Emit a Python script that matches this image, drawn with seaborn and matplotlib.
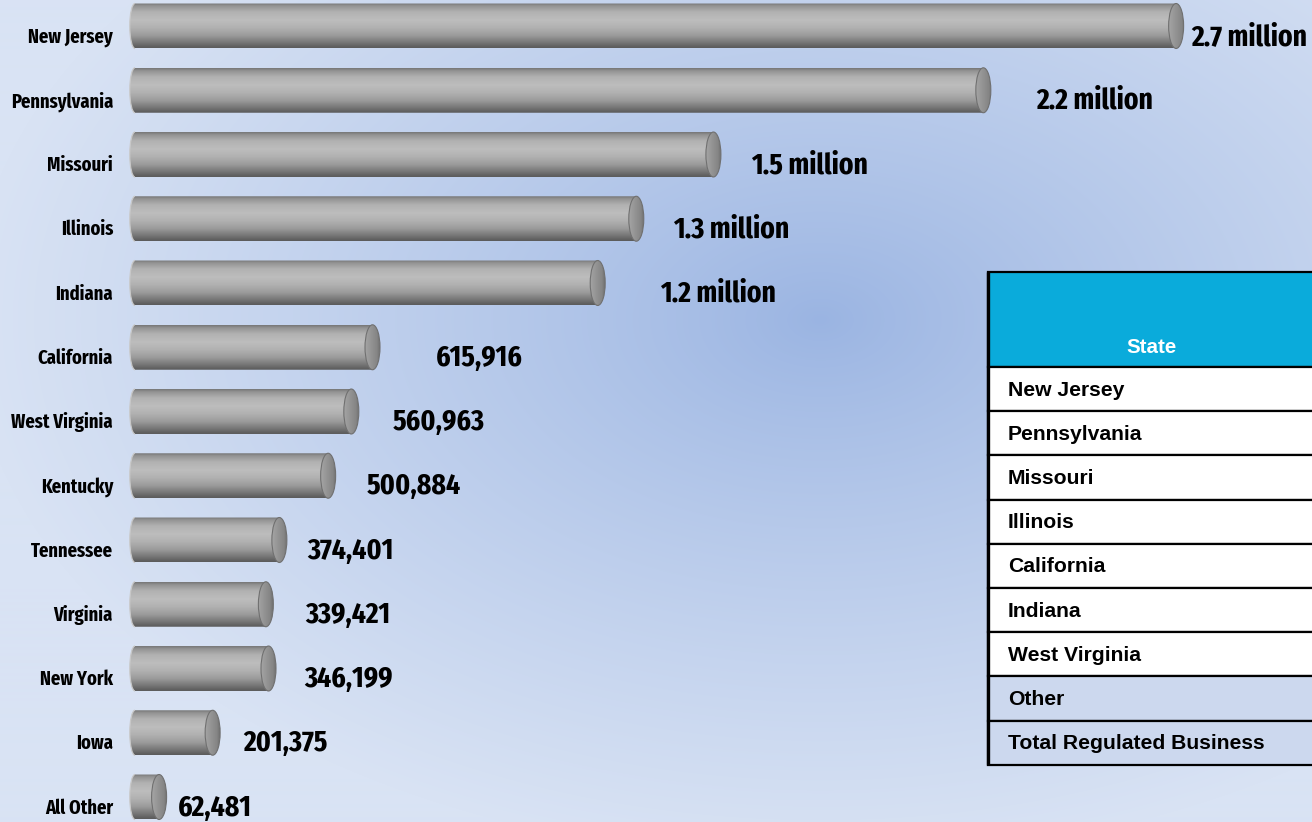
import numpy as np
import matplotlib
matplotlib.use("Agg")
import matplotlib.pyplot as plt
import matplotlib.transforms as mtransforms
from matplotlib.path import Path
from matplotlib.patches import PathPatch, Ellipse, Rectangle
from matplotlib.colors import to_rgb
import seaborn as sns

# ---- data -------------------------------------------------------------
states = ["New Jersey", "Pennsylvania", "Missouri", "Illinois", "Indiana",
          "California", "West Virginia", "Kentucky", "Tennessee", "Virginia",
          "New York", "Iowa", "All Other"]
customers = [2_700_000, 2_200_000, 1_500_000, 1_300_000, 1_200_000,
             615_916, 560_963, 500_884, 374_401, 339_421,
             346_199, 201_375, 62_481]
value_labels = ["2.7 million", "2.2 million", "1.5 million", "1.3 million",
                "1.2 million", "615,916", "560,963", "500,884", "374,401",
                "339,421", "346,199", "201,375", "62,481"]

table_header = "State"
table_rows = ["New Jersey", "Pennsylvania", "Missouri", "Illinois",
              "California", "Indiana", "West Virginia", "Other",
              "Total Regulated Business"]
shaded_rows = ["Other", "Total Regulated Business"]

# gap between each cylinder's end and its value label, in pixels
label_gap_px = [8, 45, 30, 29, 55, 56, 34, 31, 20, 32, 28, 23, 11]

# ---- style ------------------------------------------------------------
sns.set_style("white")
plt.rcParams["font.family"] = ["Fira Sans Extra Condensed", "Open Sans Condensed", "DejaVu Sans"]
label_font = ["Fira Sans Extra Condensed", "Open Sans Condensed", "DejaVu Sans"]
table_font = ["Liberation Sans", "Arial", "DejaVu Sans"]

W, H, DPI = 1312, 822, 100
fig = plt.figure(figsize=(W / DPI, H / DPI), dpi=DPI)

# ---- soft radial blue background --------------------------------------
bg = fig.add_axes([0, 0, 1, 1], zorder=0)
gx, gy = np.meshgrid(np.arange(W), np.arange(H))
d = np.sqrt(((gx - 820) / 850.0) ** 2 + ((gy - 320) / 540.0) ** 2)
t = np.clip(d, 0, 1)[..., None] ** 0.85
c_mid = np.array(to_rgb("#9ab4e2"))
c_edge = np.array(to_rgb("#d9e3f4"))
bg.imshow(c_mid * (1 - t) + c_edge * t, extent=[0, W, H, 0], aspect="auto",
          interpolation="bilinear")
bg.set_axis_off()

# ---- bar axes -----------------------------------------------------------
zero_px, axes_left_px = 135, 120
row0_px, row_px = 26, 64.25
px_per_unit = 385.6e-6
y_lo, y_hi = -0.6, len(states) - 0.4
top_px = row0_px + y_lo * row_px
bot_px = row0_px + y_hi * row_px
ax = fig.add_axes([axes_left_px / W, 1 - bot_px / H, (W - axes_left_px) / W,
                   (bot_px - top_px) / H], zorder=1)
ax.set_facecolor("none")

sns.barplot(x=customers, y=states, orient="h", width=0.7, color="0.6",
            errorbar=None, ax=ax)

x_lim = (-(zero_px - axes_left_px) / px_per_unit, (W - zero_px) / px_per_unit)
ax.set_xlim(*x_lim)
ax.set_ylim(y_hi, y_lo)
for s in ax.spines.values():
    s.set_visible(False)
ax.set_xticks([])
ax.set_xlabel("")
ax.set_ylabel("")
ax.tick_params(axis="y", length=0, pad=5)
for lab in ax.get_yticklabels():
    lab.set_fontfamily(label_font)
    lab.set_fontweight("bold")
    lab.set_fontsize(14.5)
    lab.set_color("black")
    lab.set_transform(lab.get_transform() +
                      mtransforms.ScaledTranslation(0, -9 / DPI, fig.dpi_scale_trans))


def ramp(stops, n=200):
    pos = np.array([p for p, _ in stops])
    cols = np.array([to_rgb(c) for _, c in stops])
    tt = np.linspace(0, 1, n)
    return np.stack([np.interp(tt, pos, cols[:, k]) for k in range(3)], axis=-1)


body_ramp = ramp([(0.00, "#767676"), (0.06, "#939393"), (0.20, "#b2b2b2"),
                  (0.38, "#bdbdbd"), (0.55, "#b1b1b1"), (0.72, "#9b9b9b"),
                  (0.86, "#7b7b7b"), (0.95, "#656565"), (1.00, "#5a5a5a")])[:, None, :]
face_ramp = ramp([(0.0, "#a4a4a4"), (0.35, "#969696"), (0.8, "#858585"),
                  (1.0, "#717171")])[None, :, :]

rx = 7.5 / px_per_unit       # half-width of the elliptical ends
K = 0.5523
bars = list(ax.patches)
for i, bar in enumerate(bars):
    bar.set_visible(False)
    x0, x1 = bar.get_x(), bar.get_x() + bar.get_width()
    y0, hgt = bar.get_y(), bar.get_height()
    y1, yc, h = y0 + hgt, y0 + hgt / 2, hgt / 2
    rl = rx * 0.7            # the near (left) end shows a shallower curve

    # cylinder body with a rounded left end
    verts = [(x0, y0), (x1, y0), (x1, y1), (x0, y1),
             (x0 - rl * K, y1), (x0 - rl, yc + h * K), (x0 - rl, yc),
             (x0 - rl, yc - h * K), (x0 - rl * K, y0), (x0, y0), (x0, y0)]
    codes = [Path.MOVETO, Path.LINETO, Path.LINETO, Path.LINETO,
             Path.CURVE4, Path.CURVE4, Path.CURVE4,
             Path.CURVE4, Path.CURVE4, Path.CURVE4, Path.CLOSEPOLY]
    body = PathPatch(Path(verts, codes), facecolor="none", edgecolor="none",
                     transform=ax.transData, zorder=2)
    ax.add_patch(body)
    im = ax.imshow(body_ramp, extent=[x0 - rl, x1, y1, y0], origin="upper",
                   aspect="auto", interpolation="bilinear", zorder=2)
    im.set_clip_path(body)
    rim = PathPatch(Path(verts[3:10], [Path.MOVETO] + codes[4:10]),
                    facecolor="none", edgecolor="#c8c8c8", lw=0.9,
                    transform=ax.transData, zorder=2.1)
    ax.add_patch(rim)

    # elliptical end face
    face = Ellipse((x1, yc), 2 * rx, hgt, facecolor="none", edgecolor="#707070",
                   lw=0.8, transform=ax.transData, zorder=3)
    ax.add_patch(face)
    fim = ax.imshow(face_ramp, extent=[x1 - rx, x1 + rx, y1, y0], origin="upper",
                    aspect="auto", interpolation="bilinear", zorder=2.9)
    fim.set_clip_path(face)

    # value label
    tr = mtransforms.offset_copy(ax.transData, fig=fig, x=label_gap_px[i], y=-11,
                                 units="dots")
    ax.text(x1 + rx, yc, value_labels[i], transform=tr, ha="left", va="center",
            fontsize=21.5, fontweight="bold", fontfamily=label_font, color="black",
            zorder=4)

ax.set_xlim(*x_lim)
ax.set_ylim(y_hi, y_lo)

# ---- table --------------------------------------------------------------
tab = fig.add_axes([0, 0, 1, 1], zorder=3)
tab.set_xlim(0, W)
tab.set_ylim(H, 0)
tab.set_axis_off()
tab.patch.set_alpha(0)

t_left, t_top, head_h, row_h = 988, 272, 95, 44.2
tab.add_patch(Rectangle((t_left, t_top), 400, head_h, facecolor="#0aabdb",
                        edgecolor="black", lw=1.6))
tab.text(1152, t_top + head_h - 20, table_header, ha="center", va="center",
         color="white", fontsize=14.8, fontweight="bold", fontfamily=table_font)
for j, name in enumerate(table_rows):
    ytop = t_top + head_h + j * row_h
    fc = "#ccd8ee" if name in shaded_rows else "white"
    tab.add_patch(Rectangle((t_left, ytop), 400, row_h, facecolor=fc,
                            edgecolor="black", lw=1.6))
    tab.text(t_left + 20, ytop + row_h / 2 + 1, name, ha="left", va="center",
             color="black", fontsize=15.2, fontweight="bold", fontfamily=table_font)
tab.plot([t_left, t_left], [t_top, t_top + head_h + len(table_rows) * row_h],
         color="black", lw=2.4, solid_capstyle="butt")

fig.savefig("out.png", dpi=DPI)
